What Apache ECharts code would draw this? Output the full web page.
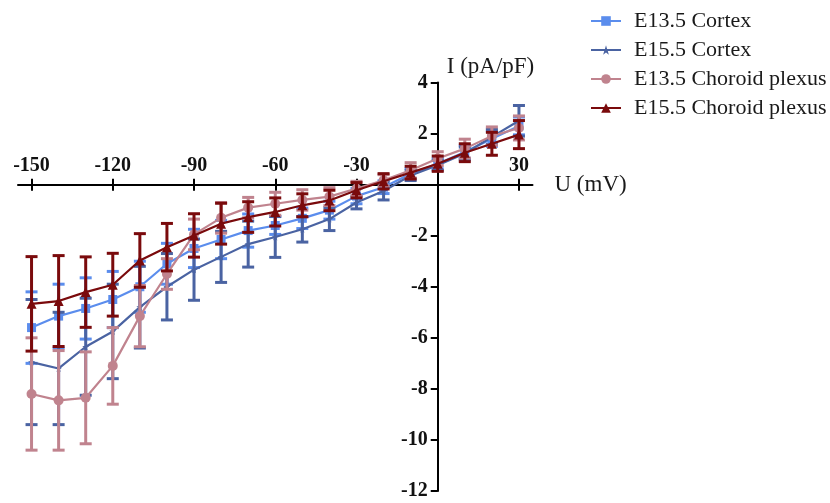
<!DOCTYPE html>
<html>
<head>
<meta charset="utf-8">
<script src="https://cdn.jsdelivr.net/npm/echarts@6/dist/echarts.min.js"></script>
<style>
  html, body { margin: 0; padding: 0; background: #ffffff; }
  #chart { width: 830px; height: 503px; }
</style>
</head>
<body>
<div id="chart"></div>
<script>
// Membrane potential steps (mV)
const voltages = [-150, -140, -130, -120, -110, -100, -90, -80, -70, -60, -50, -40, -30, -20, -10, 0, 10, 20, 30];

// Current density (pA/pF), mean and SEM per step
const e13Cortex    = [-5.6, -5.15, -4.85, -4.5, -4.0, -3.1, -2.5, -2.15, -1.8, -1.6, -1.32, -1.0, -0.45, -0.1, 0.43, 0.82, 1.28, 1.8, 2.3];
const e13CortexSem = [1.4, 1.25, 1.2, 1.1, 1.0, 0.8, 0.75, 0.75, 0.65, 0.35, 0.4, 0.35, 0.3, 0.25, 0.2, 0.2, 0.25, 0.3, 0.35];

const e15Cortex    = [-6.95, -7.2, -6.35, -5.75, -4.8, -4.0, -3.33, -2.83, -2.33, -2.05, -1.75, -1.35, -0.7, -0.25, 0.36, 0.76, 1.22, 1.87, 2.5];
const e15CortexSem = [2.45, 2.2, 1.9, 1.85, 1.6, 1.3, 1.2, 1.0, 0.9, 0.8, 0.5, 0.45, 0.25, 0.35, 0.2, 0.2, 0.25, 0.3, 0.6];

const e13Choroid    = [-8.2, -8.45, -8.35, -7.1, -5.15, -3.5, -1.95, -1.3, -0.9, -0.75, -0.6, -0.47, -0.15, 0.17, 0.56, 1.02, 1.41, 1.9, 2.22];
const e13ChoroidSem = [2.2, 1.95, 1.8, 1.5, 1.2, 0.6, 0.6, 0.6, 0.4, 0.45, 0.4, 0.35, 0.28, 0.22, 0.3, 0.27, 0.37, 0.36, 0.47];

const e15Choroid    = [-4.67, -4.56, -4.21, -3.92, -2.97, -2.45, -1.99, -1.53, -1.27, -1.07, -0.81, -0.62, -0.22, 0.13, 0.47, 0.82, 1.25, 1.6, 1.96];
const e15ChoroidSem = [1.85, 1.78, 1.38, 1.23, 1.05, 0.93, 0.85, 0.8, 0.6, 0.55, 0.45, 0.4, 0.3, 0.3, 0.25, 0.3, 0.35, 0.45, 0.55];

// Axis tick labels
const xTickValues  = [-150, -120, -90, -60, -30, 0, 30];
const xLabelValues = [-150, -120, -90, -60, -30, 30];

const SERIF = '"Liberation Serif", "Times New Roman", serif';
const STAR = 'path://M50,0 L61,35 L98,35 L68,57 L79,91 L50,70 L21,91 L32,57 L2,35 L39,35 Z';

const groups = [
  { name: 'E13.5 Cortex',         mean: e13Cortex,  sem: e13CortexSem,  color: '#5b8ded', symbol: 'rect',     size: 9,  z: 2 },
  { name: 'E15.5 Cortex',         mean: e15Cortex,  sem: e15CortexSem,  color: '#4a63a2', symbol: STAR,       size: 7,  z: 3 },
  { name: 'E13.5 Choroid plexus', mean: e13Choroid, sem: e13ChoroidSem, color: '#c0838e', symbol: 'circle',   size: 10, z: 4 },
  { name: 'E15.5 Choroid plexus', mean: e15Choroid, sem: e15ChoroidSem, color: '#7a0a0c', symbol: 'triangle', size: 10, z: 5 }
];

// Plot frame: the axes cross at (0 mV, 0 pA/pF) inside it
const GRID = { left: 18, right: 297.5, top: 82.5, bottom: 12 };
const X_MIN = -155, X_MAX = 35, Y_MIN = -12, Y_MAX = 4;
const CHART_W = 830, CHART_H = 503;
const gridW = CHART_W - GRID.left - GRID.right;
const gridH = CHART_H - GRID.top - GRID.bottom;
// shift each axis from the frame edge to the zero crossing
const xAxisShift = -gridH * (Y_MAX - 0) / (Y_MAX - Y_MIN);
const yAxisShift = -gridW * (0 - X_MIN) / (X_MAX - X_MIN);

// Vertical error bar with caps at mean ± SEM
function errorBarRenderer(color) {
  return function (params, api) {
    const x = api.value(0);
    const top = api.coord([x, api.value(2)]);
    const bot = api.coord([x, api.value(1)]);
    const half = 6;
    const style = { stroke: color, lineWidth: 3, fill: null };
    return {
      type: 'group',
      children: [
        { type: 'line', shape: { x1: top[0], y1: top[1], x2: bot[0], y2: bot[1] }, style: style },
        { type: 'line', shape: { x1: top[0] - half, y1: top[1], x2: top[0] + half, y2: top[1] }, style: style },
        { type: 'line', shape: { x1: bot[0] - half, y1: bot[1], x2: bot[0] + half, y2: bot[1] }, style: style }
      ]
    };
  };
}

const series = [];
groups.forEach(function (g) {
  series.push({
    type: 'custom',
    xAxisIndex: 0,
    yAxisIndex: 0,
    z: g.z,
    silent: true,
    clip: false,
    renderItem: errorBarRenderer(g.color),
    encode: { x: 0, y: [1, 2] },
    data: voltages.map(function (v, i) { return [v, g.mean[i] - g.sem[i], g.mean[i] + g.sem[i]]; })
  });
  series.push({
    name: g.name,
    type: 'line',
    xAxisIndex: 0,
    yAxisIndex: 0,
    z: g.z,
    symbol: g.symbol,
    symbolSize: g.size,
    showAllSymbol: true,
    itemStyle: { color: g.color },
    lineStyle: { color: g.color, width: 2.2 },
    data: voltages.map(function (v, i) { return [v, g.mean[i]]; })
  });
});

const axisLineStyle = { color: '#000', width: 2 };
const tickStyle = { color: '#000', width: 2 };

const option = {
  animation: false,
  backgroundColor: '#ffffff',
  legend: {
    orient: 'vertical',
    left: 590,
    top: 10,
    padding: 0,
    itemWidth: 30,
    itemHeight: 12,
    itemGap: 7,
    data: groups.map(function (g) { return g.name; }),
    textStyle: { fontFamily: SERIF, fontSize: 22, color: '#1a1a1a', padding: [0, 0, 0, 8], lineHeight: 22 }
  },
  grid: {
    left: GRID.left,
    right: GRID.right,
    top: GRID.top,
    bottom: GRID.bottom,
    outerBoundsMode: 'none'
  },
  xAxis: [
    {
      type: 'value',
      position: 'top',
      offset: xAxisShift,
      min: X_MIN,
      max: X_MAX,
      name: 'U (mV)',
      nameLocation: 'end',
      nameGap: 22,
      nameMoveOverlap: false,
      nameTextStyle: { fontFamily: SERIF, fontSize: 23, color: '#1a1a1a' },
      axisLine: { onZero: false, lineStyle: axisLineStyle },
      axisTick: { show: true, length: 6, customValues: xTickValues, lineStyle: tickStyle },
      axisLabel: {
        customValues: xLabelValues,
        margin: 9,
        fontFamily: SERIF, fontSize: 20, fontWeight: 'bold', color: '#111'
      },
      splitLine: { show: false }
    },
    {
      // lower half of the crossing ticks
      type: 'value',
      position: 'top',
      offset: xAxisShift,
      min: X_MIN,
      max: X_MAX,
      axisLine: { onZero: false, show: false },
      axisTick: { show: true, inside: true, length: 6, customValues: xTickValues, lineStyle: tickStyle },
      axisLabel: { show: false },
      splitLine: { show: false }
    }
  ],
  yAxis: {
    type: 'value',
    position: 'left',
    offset: yAxisShift,
    min: Y_MIN,
    max: Y_MAX,
    interval: 2,
    name: 'I (pA/pF)',
    nameLocation: 'end',
    nameGap: 4,
    nameMoveOverlap: false,
    nameTextStyle: { fontFamily: SERIF, fontSize: 23, color: '#1a1a1a', align: 'left', padding: [0, 0, 0, 9] },
    axisLine: { onZero: false, lineStyle: axisLineStyle },
    axisTick: { show: true, length: 7, lineStyle: tickStyle },
    axisLabel: {
      margin: 10,
      fontFamily: SERIF, fontSize: 20, fontWeight: 'bold', color: '#111',
      formatter: function (v) { return v === 0 ? '' : String(v); }
    },
    splitLine: { show: false }
  },
  series: series
};

const chart = echarts.init(document.getElementById('chart'), null, { renderer: 'canvas' });
chart.setOption(option);
</script>
</body>
</html>
